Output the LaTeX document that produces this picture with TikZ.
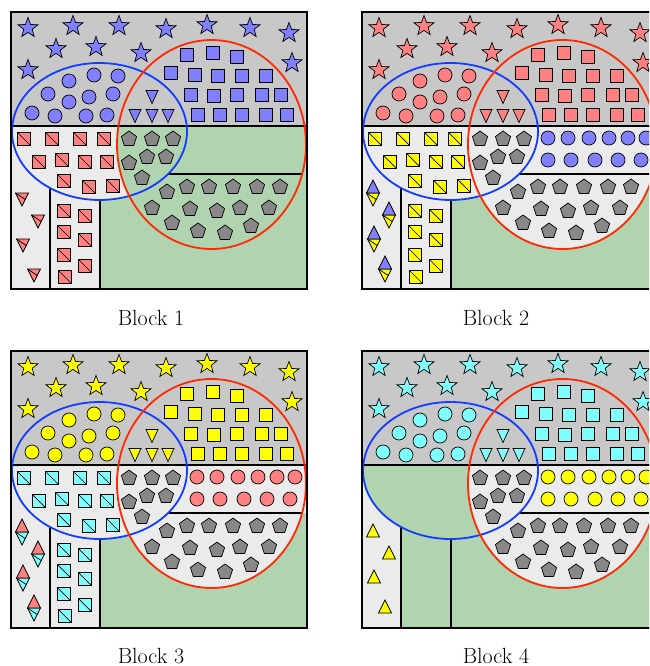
\documentclass[tikz,border=0pt]{standalone}
\usetikzlibrary{shapes.geometric}

\definecolor{topgray}{RGB}{200,200,200}
\definecolor{lowgray}{RGB}{235,235,235}
\definecolor{lowgreen}{RGB}{176,212,176}
\definecolor{pentgray}{RGB}{136,136,136}
\definecolor{myblue}{RGB}{128,128,255}
\definecolor{myred}{RGB}{255,128,128}
\definecolor{myyellow}{RGB}{255,255,0}
\definecolor{mycyan}{RGB}{128,255,255}
\definecolor{ellblue}{RGB}{20,60,255}
\definecolor{ellred}{RGB}{255,40,0}

% the two sets, in pixel units of one panel
\newcommand{\blueell}{(99.5,131.5) ellipse [x radius=87.5, y radius=68.5]}
\newcommand{\redell}{(211.5,144.5) ellipse [x radius=94.5, y radius=104.5]}

% upper band: stars, circles, triangles, squares
\newcommand{\topshapes}[1]{%
  \foreach \x/\y [count=\i] in {28/28, 73/26, 119/26, 166/29, 207/25, 250/28, 289/33,
                     56/49, 96/47, 141/53, 28/70, 292/63}
    \node[starshape, fill=#1] (star\i) at (\x,\y) {};
  \foreach \x/\y [count=\i] in {32/113, 55/116, 86/116, 107/115, 48/94, 69/102,
                     89/97, 113/94, 69/81, 94/75, 118/76}
    \node[dotshape, fill=#1] (dot\i) at (\x,\y) {};
  \foreach \x/\y in {152/97, 135/116, 152/116, 168/116}
    \filldraw[shapeline, fill=#1] (\x,\y) ++(-6,-6.5) -- ++(12,0) -- ++(-6,13) -- cycle;
  \foreach \x/\y [count=\i] in {187/55, 213/53, 237/57,
                     171/73, 195/75, 218/76, 242/76, 266/76,
                     191/95, 214/96, 237/95, 262/95, 281/95,
                     198/115, 220/115, 242/115, 266/115, 287/115}
    \node[boxshape, fill=#1] (box\i) at (\x,\y) {};
}
% squares with a diagonal
\newcommand{\diagsquares}[1]{%
  \foreach \x/\y [count=\i] in {24/139, 52/139, 80/139, 104/139,
                     39/162, 62/160, 85/162, 107/162,
                     64/181, 89/187, 113/186,
                     64/211, 85/216, 64/232, 85/240, 64/255, 85/266, 65/277}
    \node[diagbox, fill=#1] (diag\i) at (\x,\y) {};
}
\newcommand{\pentagons}{%
  \foreach \x/\y [count=\i] in {129/139, 152/139, 173/139, 129/163, 147/157, 166/157, 142/178,
                     167/192, 187/187, 209/187, 233/187, 257/187, 280/187,
                     152/208, 190/209, 217/211, 240/208, 269/208,
                     172/223, 198/231, 225/233, 251/226}
    \node[pentshape] (pent\i) at (\x,\y) {};
}
\newcommand{\rowdots}[1]{%
  \foreach \x/\y [count=\i] in {197/138, 217/138, 238/138, 258/138, 277/138, 295/138,
                     197/160, 220/160, 244/160, 267/160, 290/160}
    \node[dotshape, fill=#1] (rdot\i) at (\x,\y) {};
}
% left column
\newcommand{\coldown}[1]{%
  \foreach \x/\y in {22/193, 38/215, 23/239, 34/269} {
    \filldraw[shapeline, fill=#1] (\x,\y) ++(-6.5,0) -- ++(13,0) -- ++(-6.5,13) -- cycle;
    \draw[shapeline] (\x,\y) ++(-6.5,0) -- ++(9.75,6.5);
  }
}
\newcommand{\colup}[1]{%
  \foreach \x/\y in {22/193, 38/215, 23/239, 34/269}
    \filldraw[shapeline, fill=#1] (\x,\y) ++(-6.5,0) -- ++(13,0) -- ++(-6.5,-13) -- cycle;
}
\newcommand{\panellines}{%
  \draw[divline] (11,126) -- (307,126);
  \draw[divline] (168,174) -- (302,174);
  \draw[divline] (50,188) -- (50,289);
  \draw[divline] (100,200) -- (100,289);
  \draw[ellipseline, ellblue] \blueell;
  \draw[ellipseline, ellred] \redell;
  \draw[divline, line width=2.2pt] (11,12) rectangle (307,289);
}

\begin{document}
\begin{tikzpicture}[x=1pt, y=-1pt,
    shapeline/.style={draw=black, line width=0.7pt},
    starshape/.style={star, star points=5, star point ratio=2.4, minimum size=21,
      inner sep=0pt, shapeline},
    dotshape/.style={circle, minimum size=14, inner sep=0pt, shapeline},
    boxshape/.style={rectangle, minimum size=13, inner sep=0pt, shapeline},
    diagbox/.style={rectangle, minimum size=13, inner sep=0pt, shapeline,
      path picture={\draw[line width=0.7pt] (path picture bounding box.north west)
        -- (path picture bounding box.south east);}},
    pentshape/.style={regular polygon, regular polygon sides=5, minimum size=16,
      inner sep=0pt, shapeline, fill=pentgray},
    divline/.style={black, line width=1.8pt},
    ellipseline/.style={line width=1.8pt},
    blocklabel/.style={font=\fontsize{22}{26}\selectfont, anchor=base}]
  \useasboundingbox (0,0) rectangle (649,666);
  \clip (0,0) rectangle (649,666);

  % Block 1
  \begin{scope}
    \fill[topgray] (11,12) rectangle (307,126);
    \fill[lowgreen] (11,126) rectangle (307,289);
    \fill[lowgray] (11,126) rectangle (100,289);
    \begin{scope}
      \clip (11,126) rectangle (307,289);
      \fill[lowgray] \blueell;
      \fill[lowgreen] \redell;
    \end{scope}
    \topshapes{myblue}
    \diagsquares{myred}
    \pentagons
    \coldown{myred}
    \panellines
    \node[blocklabel] (label1) at (151,325) {Block 1};
  \end{scope}

  % Block 2
  \begin{scope}[shift={(351,0)}]
    \fill[topgray] (11,12) rectangle (307,126);
    \fill[lowgreen] (11,126) rectangle (307,289);
    \fill[lowgray] (11,126) rectangle (307,174);
    \fill[lowgray] (11,126) rectangle (100,289);
    \begin{scope}
      \clip (11,126) rectangle (307,289);
      \fill[lowgray] \blueell;
      \fill[lowgray] \redell;
    \end{scope}
    \topshapes{myred}
    \diagsquares{myyellow}
    \pentagons
    \rowdots{myblue}
    \coldown{myyellow}
    \colup{myblue}
    \panellines
    \node[blocklabel] (label2) at (145,325) {Block 2};
  \end{scope}

  % Block 3
  \begin{scope}[shift={(0,339)}]
    \fill[topgray] (11,12) rectangle (307,126);
    \fill[lowgreen] (11,126) rectangle (307,289);
    \fill[lowgray] (11,126) rectangle (307,174);
    \fill[lowgray] (11,126) rectangle (100,289);
    \begin{scope}
      \clip (11,126) rectangle (307,289);
      \fill[lowgray] \blueell;
      \fill[lowgray] \redell;
    \end{scope}
    \topshapes{myyellow}
    \diagsquares{mycyan}
    \pentagons
    \rowdots{myred}
    \coldown{mycyan}
    \colup{myred}
    \panellines
    \node[blocklabel] (label3) at (151,324) {Block 3};
  \end{scope}

  % Block 4
  \begin{scope}[shift={(351,339)}]
    \fill[topgray] (11,12) rectangle (307,126);
    \fill[lowgreen] (11,126) rectangle (307,289);
    \fill[lowgray] (11,126) rectangle (307,174);
    \fill[lowgray] (11,126) rectangle (50,289);
    \begin{scope}
      \clip (11,126) rectangle (307,289);
      \fill[lowgreen] \blueell;
      \fill[lowgray] \redell;
    \end{scope}
    \topshapes{mycyan}
    \pentagons
    \rowdots{myyellow}
    \begin{scope}[yshift=-5]
      \colup{myyellow}
    \end{scope}
    \panellines
    \node[blocklabel] (label4) at (145,324) {Block 4};
  \end{scope}
\end{tikzpicture}
\end{document}
